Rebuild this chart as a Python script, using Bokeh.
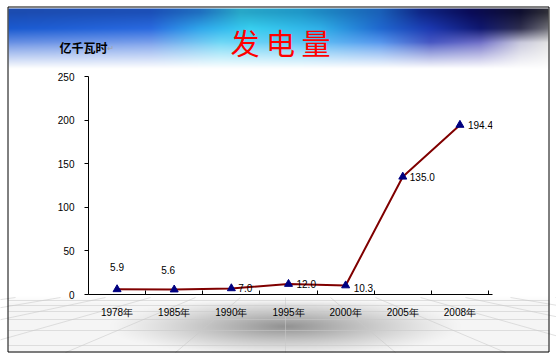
import numpy as np
from bokeh.plotting import figure
from bokeh.models import ColumnDataSource, Range1d, LinearAxis, FixedTicker
from bokeh.core.properties import value
from bokeh.embed import file_html
from bokeh.resources import INLINE

# ---------------- data ----------------
years = ["1978年", "1985年", "1990年", "1995年", "2000年", "2005年", "2008年"]
output = [5.9, 5.6, 7.0, 12.0, 10.3, 135.0, 194.4]
value_labels = ["5.9", "5.6", "7.0", "12.0", "10.3", "135.0", "194.4"]
y_ticks = [0, 50, 100, 150, 200, 250]
title_text = "发 电 量"
unit_text = "亿千瓦时"

# label placement (style, screen px)
label_dx = [0, -6, 7, 8, 8, 7, 8]
label_dy = [-22, -20, 0, 0, 2, 0, 0]
label_align = ["center", "center", "left", "left", "left", "left", "left"]

W, H = 556, 358
FONT = "Liberation Sans"
CJK = "Noto Sans CJK SC"
ABS = {"position": "absolute", "top": "0px", "left": "0px",
       "width": f"{W}px", "height": f"{H}px"}

# =============== background slide (decoration) ===============
bg = figure(width=W, height=H, x_range=Range1d(0, W), y_range=Range1d(0, H),
            output_backend="svg", toolbar_location=None, x_axis_type=None, y_axis_type=None,
            min_border=0, min_border_left=0, min_border_right=0,
            min_border_top=0, min_border_bottom=0, styles=ABS)
bg.outline_line_color = None
bg.grid.visible = False
bg.background_fill_color = "white"
bg.border_fill_color = "white"

def Y(y):  # screen y (top-down) -> bg data y
    return H - y

def hexarr(h):
    h = h.lstrip("#")
    return np.array([int(h[i:i + 2], 16) for i in (0, 2, 4)], dtype=float)

def stops_to_rgb(stops, xs):
    px = [s[0] for s in stops]
    cols = np.array([hexarr(s[1]) for s in stops])
    return np.stack([np.interp(xs, px, cols[:, k]) for k in range(3)], axis=-1)

BX0, BX1, BY0, BY1 = 8, 548, 8, 72
xs = np.arange(BX0, BX1) + 0.5
T = stops_to_rgb([(8, "#1c4cb0"), (150, "#1c50b8"), (200, "#2070c0"), (240, "#28a8c8"),
                  (300, "#2098c8"), (380, "#1a60b8"), (420, "#102888"), (470, "#0a0c58"),
                  (520, "#101030"), (548, "#303038")], xs)
M1 = stops_to_rgb([(8, "#1a5ad0"), (150, "#2a6ae0"), (200, "#30a8ec"), (250, "#38d0f0"),
                   (320, "#30b0e8"), (380, "#2068d0"), (430, "#1c38b0"), (480, "#101870"),
                   (520, "#303050"), (548, "#707078")], xs)
M2 = stops_to_rgb([(8, "#6890e4"), (150, "#7aa0ec"), (220, "#70d8f6"), (300, "#60c8f6"),
                   (380, "#5898ee"), (430, "#4858c4"), (480, "#7070c8"), (520, "#c8c8dc"),
                   (548, "#e4e4e4")], xs)
Wc = np.ones_like(M2) * 255.0
rows = []
for y in range(BY0, BY1):
    yc = y + 0.5
    if yc < 12:
        c = T
    elif yc < 28:
        t = (yc - 12) / 16
        c = T + (M1 - T) * t
    elif yc < 42:
        t = (yc - 28) / 14
        c = M1 + (M2 - M1) * t
    else:
        t = min(1.0, (yc - 42) / 26) ** 0.9
        c = M2 + (Wc - M2) * t
    rows.append(c)
banner = np.array(rows)  # top-down
rgba = np.zeros(banner.shape[:2], dtype=np.uint32)
view = rgba.view(dtype=np.uint8).reshape(banner.shape[0], banner.shape[1], 4)
view[:, :, :3] = np.clip(banner, 0, 255).astype(np.uint8)
view[:, :, 3] = 255
bg.image_rgba(image=[np.flipud(rgba)], x=BX0, y=Y(BY1), dw=BX1 - BX0, dh=BY1 - BY0)

# floor
FX0, FX1, FY0, FY1 = 8, 548, 296, 352
gx, gy = np.meshgrid(np.arange(FX0, FX1) + 0.5, np.arange(FY0, FY1) + 0.5)
r = np.sqrt(((gx - 285) / 175.0) ** 2 + ((gy - 326) / 30.0) ** 2)
s = np.clip(1 - r, 0, 1) ** 1.2
fade_top = np.clip((gy - FY0) / 8.0, 0, 1)
g = 255 - (100 * s + 10) * fade_top
floor = np.zeros(g.shape, dtype=np.uint32)
fv = floor.view(dtype=np.uint8).reshape(g.shape[0], g.shape[1], 4)
fv[:, :, 0] = fv[:, :, 1] = fv[:, :, 2] = np.clip(g, 0, 255).astype(np.uint8)
fv[:, :, 3] = 255
bg.image_rgba(image=[np.flipud(floor)], x=FX0, y=Y(FY1), dw=FX1 - FX0, dh=FY1 - FY0)

# perspective grid on the floor
hy = [300, 305, 311, 319, 330, 345]
bg.segment(x0=[FX0] * len(hy), x1=[FX1] * len(hy), y0=[Y(v) for v in hy], y1=[Y(v) for v in hy],
           line_color="#c8c8c8", line_alpha=0.55, line_width=1)
ks = list(range(-7, 8))
bg.segment(x0=[285 + k * 45 for k in ks], x1=[285 + k * 110 for k in ks],
           y0=[Y(297)] * len(ks), y1=[Y(352)] * len(ks),
           line_color="#c8c8c8", line_alpha=0.55, line_width=1)

# slide border
bg.quad(left=[7.5], right=[548.5], top=[Y(6.5)], bottom=[Y(351.5)],
        fill_color=None, line_color="black", line_width=1)

# titles
bg.text(x=[280], y=[Y(41)], text=[title_text], text_align="center", text_baseline="middle",
        text_font=value(CJK), text_font_size="29px", text_color="#ff0000")
bg.text(x=[59], y=[Y(47)], text=[unit_text], text_align="left", text_baseline="middle",
        text_font=value(CJK), text_font_size="12px", text_font_style="bold", text_color="black")
bg.text(x=[107], y=[Y(48)], text=["↵"], text_align="left", text_baseline="middle",
        text_font=value("DejaVu Sans"), text_font_size="8px", text_color="#a0a0a0")

# =============== chart ===============
n = len(years)
x_pos = [i + 0.5 for i in range(n)]          # category slot centres
boundaries = [float(i) for i in range(1, n + 1)]
frame_w = W - 88 - 64
x_end = n * frame_w / 400.0                  # 400 px span for the 7 slots

p = figure(width=W, height=H, x_range=Range1d(0, x_end), y_range=Range1d(0, 250),
           output_backend="svg", toolbar_location=None, x_axis_type=None, y_axis_type=None,
           min_border_left=88, min_border_right=64, min_border_top=76, min_border_bottom=64,
           styles=ABS)
p.outline_line_color = None
p.background_fill_color = None
p.border_fill_color = None
p.grid.visible = False

yaxis = LinearAxis(ticker=FixedTicker(ticks=y_ticks), major_tick_out=4, major_tick_in=0,
                   minor_tick_line_color=None, axis_line_color="black",
                   major_tick_line_color="black", major_label_standoff=10,
                   major_label_text_font=FONT, major_label_text_font_size="10px",
                   major_label_text_color="black")
p.add_layout(yaxis, "left")

xaxis = LinearAxis(ticker=FixedTicker(ticks=x_pos, minor_ticks=boundaries),
                   major_label_overrides={xp: yr for xp, yr in zip(x_pos, years)},
                   major_tick_line_color=None, minor_tick_in=4, minor_tick_out=0,
                   minor_tick_line_color="black", axis_line_color="black",
                   major_label_standoff=6,
                   major_label_text_font=FONT, major_label_text_font_size="10px",
                   major_label_text_color="black")
p.add_layout(xaxis, "below")

src = ColumnDataSource(dict(x=x_pos, v=output, lab=value_labels,
                            dx=label_dx, dy=label_dy, align=label_align))
p.line(x="x", y="v", source=src, line_color="#800000", line_width=2)
p.scatter(x="x", y="v", source=src, marker="triangle", size=8,
          fill_color="#000080", line_color="#000080")
p.text(x="x", y="v", text="lab", source=src, x_offset="dx", y_offset="dy",
       text_align="align", text_baseline="middle", text_font=value(FONT),
       text_font_size="10px", text_color="black")

open("out.html", "w").write(file_html([bg, p], INLINE))
